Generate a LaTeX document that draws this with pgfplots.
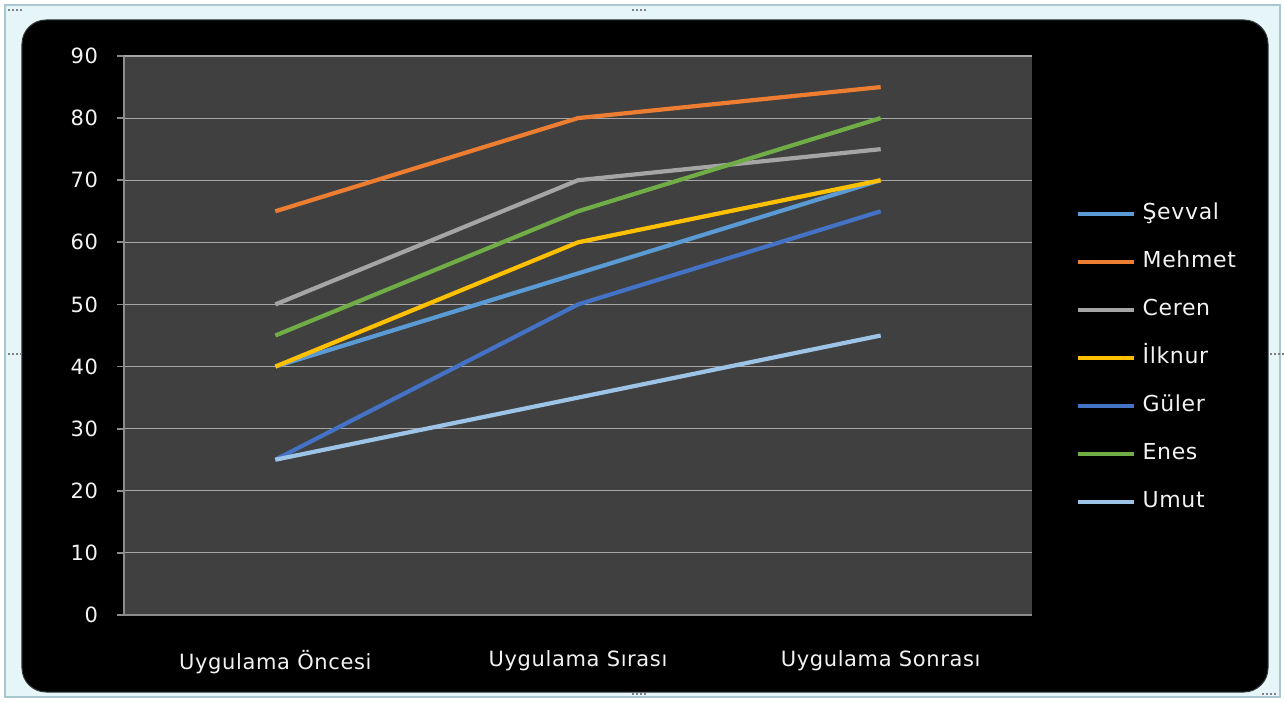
\documentclass[border=0pt]{standalone}
\usepackage{fontspec}
\setmainfont{DejaVu Sans}[LetterSpace=3]
\usepackage{pgfplots}
\pgfplotsset{compat=1.18}

\definecolor{framebg}{HTML}{E6F5F8}
\definecolor{frameline}{HTML}{A8C8D0}
\definecolor{plotbg}{HTML}{404040}
\definecolor{gridgray}{HTML}{A6A6A6}
\definecolor{axisgray}{HTML}{8C8C8C}
\definecolor{txt}{HTML}{F2F2F2}
\definecolor{cSevval}{HTML}{5B9BD5}
\definecolor{cMehmet}{HTML}{ED7D31}
\definecolor{cCeren}{HTML}{A5A5A5}
\definecolor{cIlknur}{HTML}{FFC000}
\definecolor{cGuler}{HTML}{4472C4}
\definecolor{cEnes}{HTML}{70AD47}
\definecolor{cUmut}{HTML}{9DC3E6}

\begin{document}
\begin{tikzpicture}[x=1pt, y=1pt]
% 1px of the reference = 0.5pt; origin = lower left of plot area
\useasboundingbox (-62,-43.5) rectangle (580.5,307.5);
\fill[white] (-62,-43.5) rectangle (580.5,307.5);
\filldraw[fill=framebg, draw=frameline, line width=0.6pt] (-59.5,-41) rectangle (578,305);
\filldraw[fill=black, draw=black!70!frameline, line width=0.5pt, rounded corners=12pt] (-51,-38.5) rectangle (572,297.5);
% selection handles
\foreach \hx/\hy in {-55/302, 572/-40, 257/302, 257/-40, -55/130, 576/130}
  \foreach \dx in {0,2,4,6} \fill[gray] (\hx+\dx-3,\hy) rectangle +(1.2,1.2);

\begin{axis}[
	scale only axis,
	width=454pt, height=279.5pt,
	xmin=-0.5, xmax=2.5,
	ymin=0, ymax=90,
	axis background/.style={fill=plotbg},
	axis x line*=bottom,
	axis y line*=left,
	axis line style={-, color=axisgray, line width=0.9pt},
	ytick={0,10,...,90},
	ymajorgrids,
	grid style={color=gridgray, line width=0.6pt},
	xtick={0,1,2},
	xticklabels={Uygulama Öncesi, Uygulama Sırası, Uygulama Sonrası},
	major x tick style={draw=none},
	extra x ticks={-0.5,0.5,1.5,2.5},
	extra x tick labels={},
	extra x tick style={grid=none, tick style={color=axisgray, line width=0.9pt}, major tick length=4pt},
	tick align=outside,
	major tick length=3.5pt,
	ytick style={color=axisgray, line width=0.9pt},
	/pgf/number format/assume math mode=true,
	tick label style={font=\fontsize{10.5}{12}\selectfont, text=txt},
	x tick label style={yshift=-10.5pt},
	y tick label style={xshift=-6pt},
	legend style={
		at={(rel axis cs:1.041,0.7466)}, anchor=north west,
		draw=none, fill=none,
		font=\fontsize{11}{12}\selectfont, text=txt,
		row sep=12.5pt,
		nodes={inner sep=0.5pt, text height=8pt, text depth=2.5pt},
		/tikz/every odd column/.append style={column sep=3pt},
	},
	legend cell align=left,
	legend image code/.code={\draw[#1, line width=2pt] (0pt,0pt) -- (28pt,0pt);},
	every axis plot/.append style={line width=2.1pt, mark=none},
]
\addplot[cSevval] coordinates {(0,40) (1,55) (2,70)};
\addlegendentry{Şevval}
\addplot[cMehmet] coordinates {(0,65) (1,80) (2,85)};
\addlegendentry{Mehmet}
\addplot[cCeren] coordinates {(0,50) (1,70) (2,75)};
\addlegendentry{Ceren}
\addplot[cIlknur] coordinates {(0,40) (1,60) (2,70)};
\addlegendentry{İlknur}
\addplot[cGuler] coordinates {(0,25) (1,50) (2,65)};
\addlegendentry{Güler}
\addplot[cEnes] coordinates {(0,45) (1,65) (2,80)};
\addlegendentry{Enes}
\addplot[cUmut] coordinates {(0,25) (1,35) (2,45)};
\addlegendentry{Umut}
\end{axis}
\end{tikzpicture}
\end{document}
